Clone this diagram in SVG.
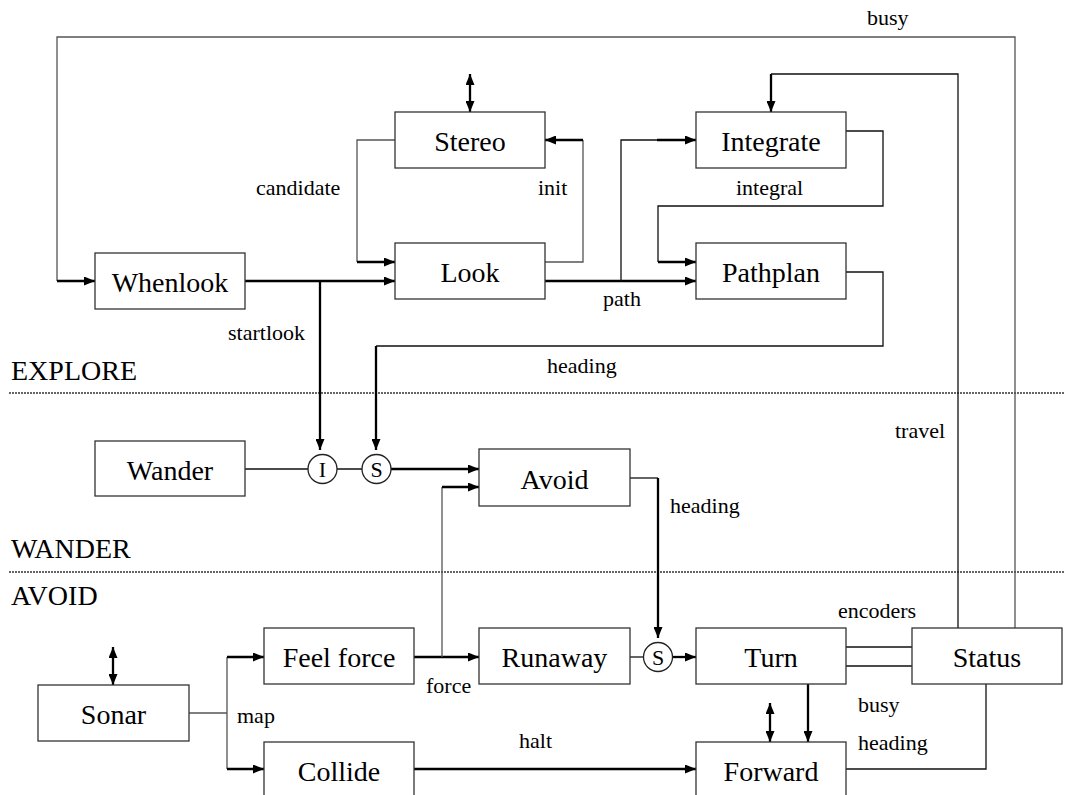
<svg xmlns="http://www.w3.org/2000/svg" width="1065" height="795" viewBox="0 0 1065 795">
<defs>
<marker id="ah" markerUnits="userSpaceOnUse" markerWidth="11" markerHeight="9" refX="11" refY="4.5" orient="auto-start-reverse">
<path d="M0,0 L11,4.5 L0,9 z" fill="#000"/>
</marker>
<style>
text{font-family:'Liberation Serif','DejaVu Serif',serif;fill:#000}
.box{fill:#fff;stroke:#333;stroke-width:1.3}
.nl{font-size:28px;text-anchor:middle}
.el{font-size:22px}
.sl{font-size:28px}
.thin{fill:none;stroke:#555;stroke-width:1.3}
.thinb{fill:none;stroke:#111;stroke-width:1.3}
.thick{fill:none;stroke:#000;stroke-width:2.3}
.arr{marker-end:url(#ah)}
.dbl{marker-start:url(#ah);marker-end:url(#ah)}
.sep{fill:none;stroke:#333;stroke-width:1.6;stroke-dasharray:2 1}
.circ{fill:#fff;stroke:#222;stroke-width:1.3}
.cl{font-size:22px;text-anchor:middle}
</style>
</defs>
<rect width="1065" height="795" fill="#fff"/>

<g id="separators">
<line class="sep" x1="9" y1="393" x2="1065" y2="393"/>
<line class="sep" x1="9" y1="572" x2="1065" y2="572"/>
<text class="sl" x="11" y="380">EXPLORE</text>
<text class="sl" x="11" y="558">WANDER</text>
<text class="sl" x="11" y="605">AVOID</text>
</g>

<g id="connectors">
<path class="thin" d="M1015,628 V37 H57 V281"/>
<path class="thick arr" d="M57,281 H95"/>
<path class="thinb" d="M958,628 V74 H771"/>
<path class="thick arr" d="M771,74 V112"/>
<path class="thick arr" d="M245,281 H395"/>
<path class="thick arr" d="M320,281 V450"/>
<path class="thick dbl" d="M470,74 V112"/>
<path class="thin" d="M395,140 H357 V262"/>
<path class="thick arr" d="M357,262 H395"/>
<path class="thin" d="M545,262 H583 V140"/>
<path class="thick arr" d="M583,140 H545"/>
<path class="thick arr" d="M545,281 H696"/>
<path class="thinb" d="M621,281 V140 H657"/>
<path class="thick arr" d="M657,140 H696"/>
<path class="thinb" d="M846,131 H883 V206 H658 V262"/>
<path class="thick arr" d="M658,262 H696"/>
<path class="thinb" d="M846,272 H883 V346 H376"/>
<path class="thick arr" d="M376,346 V450"/>
<path class="thinb" d="M245,469 H308 M337,469 H362"/>
<path class="thick arr" d="M391,469 H479"/>
<path class="thick arr" d="M414,657 H479"/>
<path class="thin" d="M442,657 V487"/>
<path class="thick arr" d="M442,487 H479"/>
<path class="thinb" d="M630,478 H658"/>
<path class="thick arr" d="M658,478 V638"/>
<path class="thinb" d="M630,657 H643.5"/>
<path class="thick arr" d="M672.5,657 H696"/>
<path class="thick dbl" d="M113,647 V685"/>
<path class="thin" d="M189,713 H227 M227,657 V769"/>
<path class="thick arr" d="M227,657 H264"/>
<path class="thick arr" d="M227,769 H264"/>
<path class="thick arr" d="M414,769 H696"/>
<path class="thinb" d="M846,647 H912 M846,666 H912"/>
<path class="thick arr" d="M808,684 V742"/>
<path class="thick dbl" d="M770,703 V742"/>
<path class="thinb" d="M986,684 V769 H846"/>
</g>

<g id="labels">
<text class="el" x="867" y="25">busy</text>
<text class="el" x="256" y="195">candidate</text>
<text class="el" x="538" y="195">init</text>
<text class="el" x="736" y="195">integral</text>
<text class="el" x="603" y="306">path</text>
<text class="el" x="228" y="340">startlook</text>
<text class="el" x="547" y="373">heading</text>
<text class="el" x="895" y="438">travel</text>
<text class="el" x="670" y="513">heading</text>
<text class="el" x="838" y="618">encoders</text>
<text class="el" x="426" y="693">force</text>
<text class="el" x="237" y="723">map</text>
<text class="el" x="858" y="712">busy</text>
<text class="el" x="519" y="748">halt</text>
<text class="el" x="858" y="750">heading</text>
</g>

<g id="whenlook"><rect class="box" x="95" y="253" width="150" height="56"/><text class="nl" x="170" y="292">Whenlook</text></g>
<g id="stereo"><rect class="box" x="395" y="112" width="150" height="56"/><text class="nl" x="470" y="151">Stereo</text></g>
<g id="look"><rect class="box" x="395" y="243" width="150" height="56"/><text class="nl" x="470" y="282">Look</text></g>
<g id="integrate"><rect class="box" x="696" y="112" width="150" height="56"/><text class="nl" x="771" y="151">Integrate</text></g>
<g id="pathplan"><rect class="box" x="696" y="243" width="150" height="56"/><text class="nl" x="771" y="282">Pathplan</text></g>
<g id="wander"><rect class="box" x="95" y="441" width="150" height="55"/><text class="nl" x="170" y="480">Wander</text></g>
<g id="avoid"><rect class="box" x="479" y="449" width="151" height="57"/><text class="nl" x="554.5" y="489">Avoid</text></g>
<g id="sonar"><rect class="box" x="38" y="685" width="151" height="56"/><text class="nl" x="113.5" y="724">Sonar</text></g>
<g id="feelforce"><rect class="box" x="264" y="628" width="150" height="56"/><text class="nl" x="339" y="667">Feel force</text></g>
<g id="runaway"><rect class="box" x="479" y="628" width="151" height="56"/><text class="nl" x="554.5" y="667">Runaway</text></g>
<g id="turn"><rect class="box" x="696" y="628" width="150" height="56"/><text class="nl" x="771" y="667">Turn</text></g>
<g id="status"><rect class="box" x="912" y="628" width="150" height="56"/><text class="nl" x="987" y="667">Status</text></g>
<g id="collide"><rect class="box" x="264" y="742" width="150" height="56"/><text class="nl" x="339" y="781">Collide</text></g>
<g id="forward"><rect class="box" x="696" y="742" width="150" height="56"/><text class="nl" x="771" y="781">Forward</text></g>

<g id="inhibit"><circle class="circ" cx="322.5" cy="469" r="14.5"/><text class="cl" x="322.5" y="477">I</text></g>
<g id="suppress1"><circle class="circ" cx="376.5" cy="469" r="14.5"/><text class="cl" x="376.5" y="477">S</text></g>
<g id="suppress2"><circle class="circ" cx="658" cy="657" r="14.5"/><text class="cl" x="658" y="665">S</text></g>
</svg>
